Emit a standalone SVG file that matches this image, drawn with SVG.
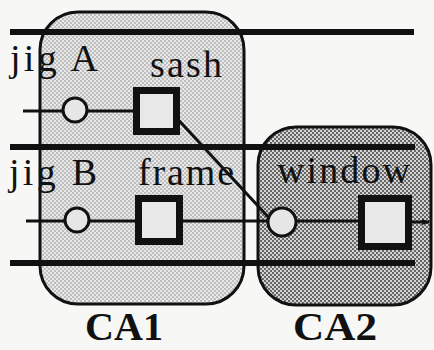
<svg xmlns="http://www.w3.org/2000/svg" width="434" height="350" viewBox="0 0 434 350">
<defs>
<pattern id="dots1" width="4" height="4" patternUnits="userSpaceOnUse"><rect width="4" height="4" fill="#e8e8e8"/><circle cx="1" cy="1" r="0.8" fill="#8a8a8a"/><circle cx="3" cy="3" r="0.8" fill="#8a8a8a"/></pattern>
<pattern id="dots2" width="4" height="4" patternUnits="userSpaceOnUse"><rect width="4" height="4" fill="#d4d4d4"/><circle cx="1" cy="1" r="0.9" fill="#333"/><circle cx="3" cy="3" r="0.9" fill="#333"/></pattern>
<marker id="arr" markerWidth="8" markerHeight="8" refX="7" refY="4" orient="auto" markerUnits="userSpaceOnUse"><path d="M0,1 L8,4 L0,7 Z" fill="#111"/></marker>
</defs>
<style>
.area{stroke:#111;stroke-width:3}
.rail{stroke:#111;stroke-width:6}
.wire{stroke:#111;stroke-width:3;fill:none}
.jig{fill:#e6e6e6;stroke:#111;stroke-width:3}
.part{fill:#e8e8e8;stroke:#111;stroke-width:7}
.lbl{font-family:"Liberation Serif","Times New Roman",serif;font-size:38px;fill:#111}
.ca{font-family:"Liberation Serif","Times New Roman",serif;font-size:41px;font-weight:bold;fill:#111}
</style>
<rect width="434" height="350" fill="#f7f7f5"/>
<g id="CA1"><rect class="area" x="40" y="12" width="204" height="292" rx="38" fill="url(#dots1)"/><text class="ca" x="85" y="340" textLength="78" lengthAdjust="spacingAndGlyphs">CA1</text></g>
<g id="CA2"><rect class="area" x="258" y="127" width="173" height="178" rx="38" fill="url(#dots2)"/><text class="ca" x="293" y="340" textLength="84" lengthAdjust="spacingAndGlyphs">CA2</text></g>
<g id="rails">
<line class="rail" x1="10" y1="32" x2="414" y2="32"/>
<line class="rail" x1="10" y1="147" x2="415" y2="147"/>
<line class="rail" x1="10" y1="263" x2="415" y2="263"/>
</g>
<g id="connectors">
<line class="wire" x1="23" y1="111" x2="136" y2="111"/>
<line class="wire" x1="26" y1="221" x2="360" y2="221"/>
<line class="wire" x1="410" y1="222" x2="429" y2="222" marker-end="url(#arr)"/>
<line class="wire" x1="172" y1="113" x2="271" y2="220"/>
</g>
<g id="jigA"><text class="lbl" x="10" y="71" textLength="88" lengthAdjust="spacing">jig A</text><circle class="jig" cx="75" cy="110" r="12"/></g>
<g id="jigB"><text class="lbl" x="9" y="185" textLength="88" lengthAdjust="spacing">jig B</text><circle class="jig" cx="77" cy="220" r="12"/></g>
<g id="sash"><text class="lbl" x="150" y="77" textLength="72" lengthAdjust="spacing">sash</text><rect class="part" x="136.5" y="90.5" width="40" height="41"/></g>
<g id="frame"><text class="lbl" x="138" y="185" textLength="96" lengthAdjust="spacing">frame</text><rect class="part" x="138.5" y="198.5" width="41" height="43"/></g>
<g id="window"><text class="lbl" x="277" y="183" textLength="133" lengthAdjust="spacing">window</text><circle class="jig" cx="282" cy="222" r="14"/><rect class="part" x="361.5" y="198.5" width="47" height="48"/></g>
</svg>
